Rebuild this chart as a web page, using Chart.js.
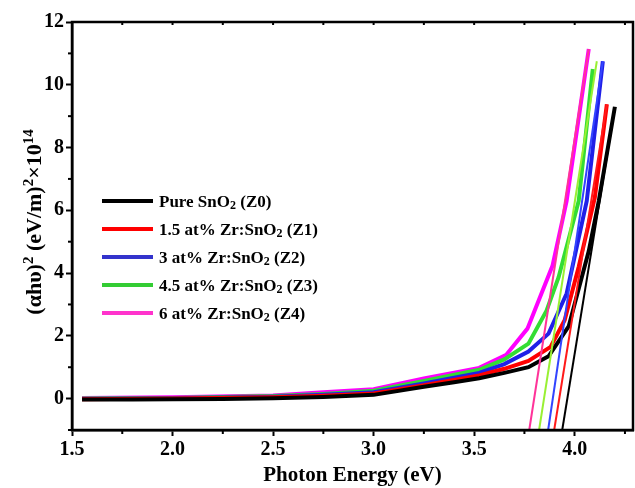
<!DOCTYPE html>
<html>
<head>
<meta charset="utf-8">
<script src="https://cdn.jsdelivr.net/npm/chart.js@4"></script>
<style>
  html, body { margin: 0; padding: 0; background: #fff; }
  #wrap { width: 635px; height: 488px; }
</style>
</head>
<body>
<div id="wrap"><canvas id="taucChart" width="635" height="488"></canvas></div>
<script>
// Series labels
const seriesLabels = ['Pure SnO₂ (Z0)', '1.5 at% Zr:SnO₂ (Z1)', '3 at% Zr:SnO₂ (Z2)', '4.5 at% Zr:SnO₂ (Z3)', '6 at% Zr:SnO₂ (Z4)'];

// Photon energy (eV) and (αhυ)² values (×10^14)
const energyZ0 = [1.55, 1.8, 2.0, 2.25, 2.5, 2.75, 3.0, 3.25, 3.4, 3.525, 3.65, 3.77, 3.87, 3.97, 4.07, 4.12, 4.20];
const valueZ0  = [-0.03, -0.03, -0.02, -0.01, 0.01, 0.05, 0.12, 0.38, 0.52, 0.65, 0.82, 1.0, 1.35, 2.3, 4.7, 6.3, 9.3];
const energyZ1 = [1.55, 2.0, 2.5, 2.75, 3.0, 3.25, 3.525, 3.65, 3.77, 3.88, 3.95, 4.02, 4.10, 4.16];
const valueZ1  = [-0.02, 0.0, 0.04, 0.09, 0.16, 0.43, 0.74, 0.95, 1.2, 1.65, 2.5, 4.2, 6.4, 9.38];
const energyZ2 = [1.55, 2.0, 2.5, 2.75, 3.0, 3.25, 3.525, 3.65, 3.77, 3.87, 3.96, 4.06, 4.14];
const valueZ2  = [-0.01, 0.01, 0.06, 0.12, 0.2, 0.48, 0.82, 1.1, 1.5, 2.07, 3.35, 6.3, 10.75];
const energyZ3 = [1.55, 2.0, 2.5, 2.75, 3.0, 3.25, 3.525, 3.65, 3.77, 3.86, 3.92, 4.02, 4.09];
const valueZ3  = [0.0, 0.02, 0.08, 0.15, 0.25, 0.56, 0.92, 1.25, 1.75, 2.8, 3.87, 6.3, 10.5];
const energyZ4 = [1.55, 2.0, 2.5, 2.75, 3.0, 3.25, 3.525, 3.66, 3.765, 3.89, 3.96, 4.07];
const valueZ4  = [0.02, 0.04, 0.1, 0.2, 0.3, 0.64, 0.98, 1.4, 2.23, 4.24, 6.3, 11.14];

// Linear fits (Tauc extrapolation): start at the bottom of the axis, end at the top
const fitStartX = [3.938, 3.898, 3.868, 3.823, 3.774];
const fitStartY = [-1, -1, -1, -1, -1];
const fitEndX   = [4.20, 4.16, 4.14, 4.11, 4.07];
const fitEndY   = [9.29, 9.38, 10.75, 10.75, 11.14];

// Axis ticks
const xTickLabels = [1.5, 2.0, 2.5, 3.0, 3.5, 4.0];
const xMinorTicks = [1.75, 2.25, 2.75, 3.25, 3.75, 4.25];
const yTickLabels = [0, 2, 4, 6, 8, 10, 12];
const yMinorTicks = [-1, 1, 3, 5, 7, 9, 11];

const curveColors = ['#000000', '#ff0000', '#2020e8', '#33dd33', '#ff00ff'];
const fitColors   = ['#000000', '#ff1a1a', '#3344ff', '#99f033', '#ff3399'];
const legendColors = ['#000000', '#ff0000', '#3333cc', '#33cc33', '#ff33cc'];

const energies = [energyZ0, energyZ1, energyZ2, energyZ3, energyZ4];
const values = [valueZ0, valueZ1, valueZ2, valueZ3, valueZ4];

const serif = "'Liberation Serif', 'Times New Roman', serif";

const datasets = [];
seriesLabels.forEach((label, i) => {
    datasets.push({
        label: label,
        data: energies[i].map((x, k) => ({ x: x, y: values[i][k] })),
        borderColor: curveColors[i],
        borderWidth: 4,
        pointRadius: 0,
        tension: 0,
        order: 1
    });
});
seriesLabels.forEach((label, i) => {
    datasets.push({
        label: 'fit ' + label,
        data: [{ x: fitStartX[i], y: fitStartY[i] }, { x: fitEndX[i], y: fitEndY[i] }],
        borderColor: fitColors[i],
        borderWidth: 2,
        pointRadius: 0,
        order: 0
    });
});

// draw text pieces; flag 1 = superscript, -1 = subscript
function drawRich(ctx, parts, x, y, big, small, rise, drop) {
    parts.forEach(p => {
        ctx.font = p[1] ? small : big;
        const dy = p[1] === 1 ? -rise : (p[1] === -1 ? drop : 0);
        ctx.fillText(p[0], x, y + dy);
        x += ctx.measureText(p[0]).width;
    });
    return x;
}

// frame around plot, minor ticks, inward ticks on the top edge
const framePlugin = {
    id: 'frame',
    afterDraw(chart) {
        const { ctx, chartArea: a, scales } = chart;
        ctx.save();
        ctx.strokeStyle = '#000';
        ctx.lineWidth = 2.5;
        ctx.strokeRect(a.left, a.top, a.right - a.left, a.bottom - a.top);
        ctx.lineWidth = 2;
        xMinorTicks.forEach(v => {
            const px = scales.x.getPixelForValue(v);
            ctx.beginPath();
            ctx.moveTo(px, a.bottom);
            ctx.lineTo(px, a.bottom + 4);
            ctx.moveTo(px, a.top);
            ctx.lineTo(px, a.top + 3);
            ctx.stroke();
        });
        xTickLabels.forEach(v => {
            const px = scales.x.getPixelForValue(v);
            ctx.beginPath();
            ctx.moveTo(px, a.top);
            ctx.lineTo(px, a.top + 3);
            ctx.stroke();
        });
        yMinorTicks.forEach(v => {
            const py = scales.y.getPixelForValue(v);
            ctx.beginPath();
            ctx.moveTo(a.left, py);
            ctx.lineTo(a.left - 4, py);
            ctx.stroke();
        });
        ctx.restore();
    }
};

// y axis title with raised exponents
const yTitlePlugin = {
    id: 'yTitle',
    afterDraw(chart) {
        const { ctx } = chart;
        const parts = [['(αhυ)', 0], ['2', 1], [' (eV/m)', 0], ['2', 1], ['×10', 0], ['14', 1]];
        const big = 'bold 22px ' + serif;
        const small = 'bold 15px ' + serif;
        ctx.save();
        let total = 0;
        parts.forEach(p => { ctx.font = p[1] ? small : big; total += ctx.measureText(p[0]).width; });
        ctx.translate(34, 222);
        ctx.rotate(-Math.PI / 2);
        ctx.fillStyle = '#000';
        ctx.textBaseline = 'alphabetic';
        drawRich(ctx, parts, -total / 2, 7, big, small, 8, 0);
        ctx.restore();
    }
};

// legend inside the plot
const legendPlugin = {
    id: 'insideLegend',
    afterDraw(chart) {
        const { ctx, chartArea: a } = chart;
        const big = 'bold 17px ' + serif;
        const small = 'bold 12px ' + serif;
        ctx.save();
        ctx.textBaseline = 'alphabetic';
        ctx.fillStyle = '#000';
        seriesLabels.forEach((label, i) => {
            const y = a.top + 179 + i * 28;
            ctx.strokeStyle = legendColors[i];
            ctx.lineWidth = 4;
            ctx.beginPath();
            ctx.moveTo(a.left + 30, y);
            ctx.lineTo(a.left + 81, y);
            ctx.stroke();
            const bits = label.split('₂');
            const parts = [[bits[0], 0], ['2', -1], [bits[1], 0]];
            drawRich(ctx, parts, a.left + 87, y + 6, big, small, 0, 2);
        });
        ctx.restore();
    }
};

const ctx = document.getElementById('taucChart').getContext('2d');
const taucChart = new Chart(ctx, {
    type: 'line',
    data: { datasets: datasets },
    options: {
        responsive: false,
        animation: false,
        layout: { padding: { top: 22, right: 2, left: 0, bottom: 0 } },
        plugins: {
            legend: { display: false },
            tooltip: { enabled: false }
        },
        scales: {
            x: {
                type: 'linear',
                min: 1.5,
                max: 4.29,
                afterFit(scale) { scale.height = 58; },
                afterBuildTicks(scale) {
                    scale.ticks = xTickLabels.map(v => ({ value: v }));
                },
                ticks: {
                    color: '#000',
                    padding: 2,
                    maxRotation: 0,
                    autoSkip: false,
                    font: { family: serif, size: 20, weight: 'bold' },
                    callback: (v) => v.toFixed(1)
                },
                grid: { display: true, drawOnChartArea: false, drawTicks: true, tickLength: 6, tickWidth: 2, tickColor: '#000' },
                border: { display: true, color: '#000', width: 2.5 },
                title: {
                    display: true,
                    text: 'Photon Energy (eV)',
                    color: '#000',
                    font: { family: serif, size: 21, weight: 'bold' },
                    padding: { top: 0, bottom: 0 }
                }
            },
            y: {
                type: 'linear',
                min: -1,
                max: 12,
                afterFit(scale) { scale.width = 72; },
                afterBuildTicks(scale) {
                    scale.ticks = yTickLabels.map(v => ({ value: v }));
                },
                ticks: {
                    color: '#000',
                    padding: 2,
                    autoSkip: false,
                    font: { family: serif, size: 20, weight: 'bold' },
                    callback: (v) => String(v)
                },
                grid: { display: true, drawOnChartArea: false, drawTicks: true, tickLength: 6, tickWidth: 2, tickColor: '#000' },
                border: { display: true, color: '#000', width: 2.5 },
                title: { display: false }
            }
        }
    },
    plugins: [framePlugin, yTitlePlugin, legendPlugin]
});
</script>
</body>
</html>
